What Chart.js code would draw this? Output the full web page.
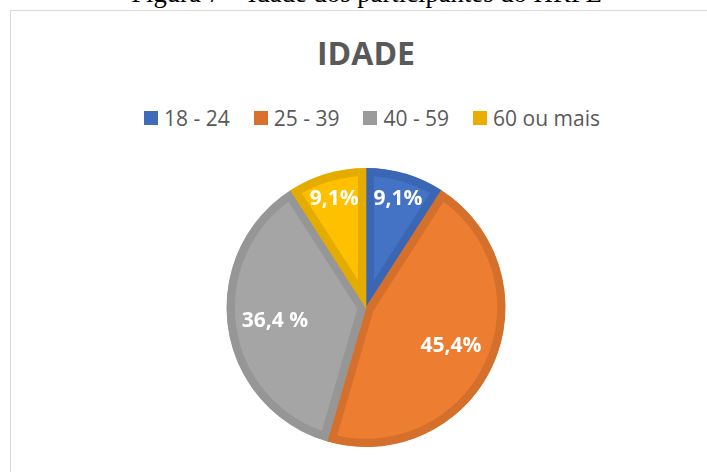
<!DOCTYPE html>
<html>
<head>
<meta charset="utf-8">
<script src="https://cdn.jsdelivr.net/npm/chart.js@4/dist/chart.umd.min.js"></script>
<style>
  html, body { margin: 0; padding: 0; background: #ffffff; }
  #wrap { position: relative; width: 707px; height: 472px; overflow: hidden; background: #fff; }
  #caption { position: absolute; left: 0; width: 733px; top: -22px; text-align: center;
    font-family: "Liberation Serif", "Times New Roman", serif; font-size: 26.7px; line-height: 30px; color: #000; white-space: nowrap; }
  #box { position: absolute; left: 10px; top: 10px; width: 760px; height: 520px; border: 1px solid #D9D9D9; background: #fff; }
  #title { position: absolute; left: 0; width: 732px; top: 33px; text-align: center;
    font-family: "Open Sans", sans-serif; font-weight: bold; font-size: 32px; line-height: 40px; color: #595959; }
  #legend { position: absolute; left: 144px; top: 104px; height: 28px; display: flex; align-items: center;
    font-family: "Open Sans", sans-serif; font-size: 21px; color: #595959; white-space: nowrap; }
  .item { display: flex; align-items: center; margin-right: 24px; }
  .sw { width: 14px; height: 14px; margin-right: 6px; }
  canvas { position: absolute; left: 0; top: 0; }
</style>
</head>
<body>
<div id="wrap">
  <div id="box"></div>
  <div id="caption">Figura 7 – Idade dos participantes do HRPE</div>
  <div id="title"></div>
  <div id="legend"></div>
  <canvas id="c" width="707" height="472"></canvas>
</div>
<script>
// ---- data ----
const chartTitle = "IDADE";
const categories = ["18 - 24", "25 - 39", "40 - 59", "60 ou mais"];
const values = [9.1, 45.4, 36.4, 9.1];
const sliceLabels = ["9,1%", "45,4%", "36,4 %", "9,1%"];
// ---- styles ----
const fillColors = ["#4472C4", "#ED7D31", "#A5A5A5", "#FFC000"];
const borderColors = ["#3A66B4", "#D4702C", "#969696", "#E5AC00"];
const legendColors = ["#3F6BBA", "#D9712E", "#9B9B9B", "#E9AE00"];
const labelRadiusFrac = [0.81, 0.67, 0.66, 0.81];

document.getElementById('title').textContent = chartTitle;
const leg = document.getElementById('legend');
categories.forEach((c, i) => {
  const it = document.createElement('div'); it.className = 'item';
  const sw = document.createElement('div'); sw.className = 'sw'; sw.style.background = legendColors[i];
  const tx = document.createElement('span'); tx.textContent = c;
  it.appendChild(sw); it.appendChild(tx); leg.appendChild(it);
});

const labelPlugin = {
  id: 'sliceLabels',
  afterDatasetsDraw(chart) {
    const ctx = chart.ctx;
    const meta = chart.getDatasetMeta(0);
    ctx.save();
    ctx.font = 'bold 21px "Open Sans", sans-serif';
    ctx.fillStyle = '#ffffff';
    ctx.textAlign = 'center';
    ctx.textBaseline = 'middle';
    meta.data.forEach((arc, i) => {
      const p = arc.getProps(['x', 'y', 'startAngle', 'endAngle', 'outerRadius'], true);
      const mid = (p.startAngle + p.endAngle) / 2;
      const r = p.outerRadius * labelRadiusFrac[i];
      ctx.fillText(sliceLabels[i], p.x + Math.cos(mid) * r, p.y + Math.sin(mid) * r);
    });
    ctx.restore();
  }
};

new Chart(document.getElementById('c'), {
  type: 'pie',
  data: {
    labels: categories,
    datasets: [{
      data: values,
      backgroundColor: fillColors,
      borderColor: borderColors,
      borderWidth: 8,
      borderAlign: 'inner'
    }]
  },
  options: {
    responsive: false,
    devicePixelRatio: 1,
    animation: false,
    layout: { padding: { top: 168, bottom: 25, left: 100, right: 75 } },
    plugins: {
      legend: { display: false },
      title: { display: false },
      tooltip: { enabled: false }
    }
  },
  plugins: [labelPlugin]
});
</script>
</body>
</html>
